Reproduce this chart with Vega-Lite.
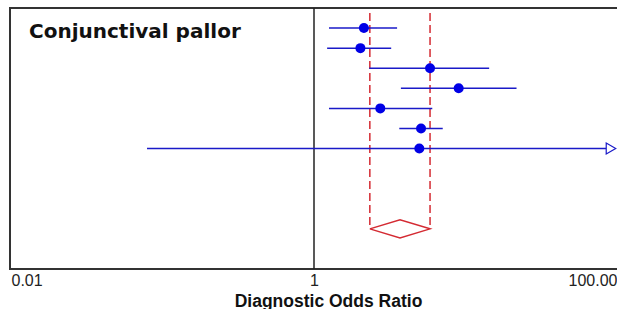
{
  "$schema": "https://vega.github.io/schema/vega-lite/v6.json",
  "width": 608,
  "height": 261,
  "autosize": {"type": "none"},
  "padding": {"left": 10, "top": 8, "right": 0, "bottom": 40},
  "background": "white",
  "config": {"view": {"stroke": "#333333", "strokeWidth": 2}},
  "title": {
    "text": "Conjunctival pallor",
    "anchor": "start",
    "frame": "group",
    "orient": "top",
    "offset": 0,
    "dx": 19,
    "dy": 51,
    "baseline": "alphabetic",
    "font": "DejaVu Sans",
    "fontSize": 20,
    "fontWeight": "bold",
    "color": "#111111"
  },
  "datasets": {
    "studies": [
      {"row": 1, "or": 2.13, "lo": 1.255, "hi": 3.52},
      {"row": 2, "or": 2.02, "lo": 1.22, "hi": 3.22},
      {"row": 3, "or": 5.8, "lo": 2.31, "hi": 14.2},
      {"row": 4, "or": 8.95, "lo": 3.73, "hi": 21.5},
      {"row": 5, "or": 2.73, "lo": 1.255, "hi": 6.0},
      {"row": 6, "or": 5.06, "lo": 3.64, "hi": 7.03},
      {"row": 7, "or": 4.93, "lo": 0.0797, "hi": 83.4}
    ],
    "arrows": [{"row": 7, "x": 89.9}],
    "pooledci": [
      {"x": 2.33, "top": 0.25, "bottom": 11},
      {"x": 5.8, "top": 0.25, "bottom": 11}
    ],
    "diamond": [
      {"k": 1, "x": 2.33, "row": 11},
      {"k": 2, "x": 3.68, "row": 10.55},
      {"k": 3, "x": 5.8, "row": 11},
      {"k": 4, "x": 3.68, "row": 11.45},
      {"k": 5, "x": 2.33, "row": 11}
    ],
    "null": [{"x": 1, "top": 0, "bottom": 13}]
  },
  "layer": [
    {
      "data": {"name": "null"},
      "mark": {"type": "rule", "color": "#222222", "strokeWidth": 1.5},
      "encoding": {
        "x": {"field": "x", "type": "quantitative", "scale": {"type": "log", "domain": [0.01, 100]},
          "axis": {
            "values": [0.01, 1, 100],
            "labelExpr": "datum.value >= 100 ? '100.00' : datum.value >= 1 ? '1' : '0.01'",
            "labelFlush": true,
            "labelFlushOffset": -1,
            "grid": false,
            "ticks": false,
            "domain": false,
            "labelFont": "Liberation Sans",
            "labelFontSize": 16,
            "labelColor": "#222222",
            "labelPadding": 3,
            "labelBaseline": "top",
            "title": "Diagnostic Odds Ratio",
            "titleFont": "Liberation Sans",
            "titleFontSize": 17.5,
            "titleFontWeight": "bold",
            "titleColor": "#111111",
            "titleX": 318,
            "titleY": 37,
            "titleAlign": "center",
            "titleBaseline": "alphabetic"
          }},
        "y": {"field": "top", "type": "quantitative", "scale": {"domain": [0, 13], "reverse": true, "nice": false, "zero": false}, "axis": null},
        "y2": {"field": "bottom"}
      }
    },
    {
      "data": {"name": "pooledci"},
      "mark": {"type": "rule", "color": "#d42a32", "strokeWidth": 1.5, "strokeDash": [8, 4]},
      "encoding": {
        "x": {"field": "x", "type": "quantitative"},
        "y": {"field": "top", "type": "quantitative"},
        "y2": {"field": "bottom"}
      }
    },
    {
      "data": {"name": "diamond"},
      "mark": {"type": "line", "color": "#d42a32", "strokeWidth": 1.5},
      "encoding": {
        "x": {"field": "x", "type": "quantitative"},
        "y": {"field": "row", "type": "quantitative"},
        "order": {"field": "k", "type": "quantitative"}
      }
    },
    {
      "data": {"name": "studies"},
      "mark": {"type": "rule", "color": "#1a1ac8", "strokeWidth": 1.5},
      "encoding": {
        "x": {"field": "lo", "type": "quantitative"},
        "x2": {"field": "hi"},
        "y": {"field": "row", "type": "quantitative"}
      }
    },
    {
      "data": {"name": "studies"},
      "mark": {"type": "point", "shape": "circle", "filled": true, "color": "#0000e6", "size": 100, "opacity": 1},
      "encoding": {
        "x": {"field": "or", "type": "quantitative"},
        "y": {"field": "row", "type": "quantitative"}
      }
    },
    {
      "data": {"name": "arrows"},
      "mark": {"type": "point", "shape": "triangle-right", "filled": false, "fill": "white", "stroke": "#1a1ac8", "strokeWidth": 1.2, "size": 120, "opacity": 1},
      "encoding": {
        "x": {"field": "x", "type": "quantitative"},
        "y": {"field": "row", "type": "quantitative"}
      }
    }
  ]
}
